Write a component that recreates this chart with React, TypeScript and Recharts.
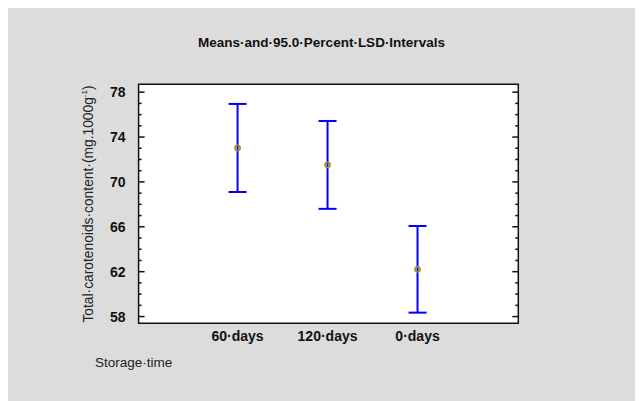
import React from 'react'
import {
  ScatterChart,
  Scatter,
  XAxis,
  YAxis,
  ErrorBar,
  ReferenceArea,
} from 'recharts'

// Storage time groups, in plotted order
const categories = ['60·days', '120·days', '0·days']
const means = [73.03, 71.52, 62.21]
const lowerLimits = [69.1, 67.6, 58.35]
const upperLimits = [76.95, 75.43, 66.07]

const yTicks = [58, 59, 60, 61, 62, 63, 64, 65, 66, 67, 68, 69, 70, 71, 72, 73, 74, 75, 76, 77, 78]
const yMajorTicks = [58, 62, 66, 70, 74, 78]

const X_DOMAIN = [-0.1, 4.12]
const Y_DOMAIN = [57.4, 78.7]

const FONT = '"Liberation Sans", Arial, sans-serif'
const LABEL_GAP = 13

const data = categories.map((name, i) => ({
  pos: i + 1,
  name,
  mean: means[i],
  err: [means[i] - lowerLimits[i], upperLimits[i] - means[i]],
}))

const LeftTick = (props: any) => {
  const { x, y, payload } = props
  const v = payload.value
  const major = yMajorTicks.includes(v)
  const edge = x + LABEL_GAP
  return (
    <g>
      <line x1={edge} x2={edge + (major ? 6 : 3)} y1={y} y2={y} stroke="#111" strokeWidth={1.5} />
      {major && (
        <text x={x} y={y} dy="0.36em" textAnchor="end" fontFamily={FONT} fontSize={14} fontWeight="bold" fill="#111">
          {v}
        </text>
      )}
    </g>
  )
}

const RightTick = (props: any) => {
  const { x, y, payload } = props
  const major = yMajorTicks.includes(payload.value)
  return <line x1={x - (major ? 6 : 3)} x2={x} y1={y} y2={y} stroke="#111" strokeWidth={1.5} />
}

const XTick = (props: any) => {
  const { x, y, payload } = props
  return (
    <text x={x} y={y} dy="0.71em" textAnchor="middle" fontFamily={FONT} fontSize={14} fontWeight="bold" fill="#111">
      {categories[payload.value - 1]}
    </text>
  )
}

const MeanDot = (props: any) => {
  const { cx, cy } = props
  return <circle cx={cx} cy={cy} r={2.6} fill="none" stroke="#a09a10" strokeWidth={1.6} />
}

export default function App() {
  return (
    <div
      style={{
        position: 'relative',
        width: 635,
        height: 397,
        marginTop: -2,
        background: '#dcdcdc',
        fontFamily: FONT,
      }}
    >
      <div
        style={{
          position: 'absolute',
          left: 0,
          width: 627,
          top: 29,
          textAlign: 'center',
          fontSize: 13.5,
          fontWeight: 'bold',
          color: '#111',
        }}
      >
        Means·and·95.0·Percent·LSD·Intervals
      </div>
      <div
        style={{
          position: 'absolute',
          left: 80,
          top: 198,
          width: 0,
          height: 0,
        }}
      >
        <div
          style={{
            position: 'absolute',
            transform: 'translate(-50%, -50%) rotate(-90deg)',
            whiteSpace: 'nowrap',
            fontSize: 13.8,
            color: '#222',
          }}
        >
          Total·carotenoids·content·(mg.1000g<sup style={{ fontSize: 8 }}>-1</sup>)
        </div>
      </div>
      <div
        style={{
          position: 'absolute',
          left: 87,
          top: 349,
          fontSize: 13.5,
          color: '#222',
        }}
      >
        Storage·time
      </div>
      <div style={{ position: 'absolute', left: 0, top: 0 }}>
        <ScatterChart
          width={635}
          height={397}
          margin={{ top: 78.3, right: 123.7, bottom: 49.7, left: 70.6 }}
        >
          <XAxis
            type="number"
            dataKey="pos"
            domain={X_DOMAIN}
            ticks={[1, 2, 3]}
            tick={<XTick />}
            tickLine={false}
            axisLine={false}
            tickSize={0}
            tickMargin={8}
            height={30}
          />
          <YAxis
            yAxisId="left"
            type="number"
            dataKey="mean"
            domain={Y_DOMAIN}
            ticks={yTicks}
            interval={0}
            tick={<LeftTick />}
            tickLine={false}
            axisLine={false}
            tickSize={0}
            tickMargin={LABEL_GAP}
            width={60}
          />
          <YAxis
            yAxisId="right"
            orientation="right"
            type="number"
            dataKey="mean"
            domain={Y_DOMAIN}
            ticks={yTicks}
            interval={0}
            tick={<RightTick />}
            tickLine={false}
            axisLine={false}
            tickSize={0}
            tickMargin={0}
            width={1}
          />
          <ReferenceArea
            yAxisId="left"
            x1={X_DOMAIN[0]}
            x2={X_DOMAIN[1]}
            y1={Y_DOMAIN[0]}
            y2={Y_DOMAIN[1]}
            fill="#ffffff"
            fillOpacity={1}
            stroke="#111"
            strokeWidth={1.5}
          />
          <Scatter yAxisId="right" data={data} shape={() => null} isAnimationActive={false} />
          <Scatter yAxisId="left" data={data} shape={<MeanDot />} isAnimationActive={false}>
            <ErrorBar dataKey="err" direction="y" width={9} stroke="#0000ff" strokeWidth={2} />
          </Scatter>
        </ScatterChart>
      </div>
    </div>
  )
}
